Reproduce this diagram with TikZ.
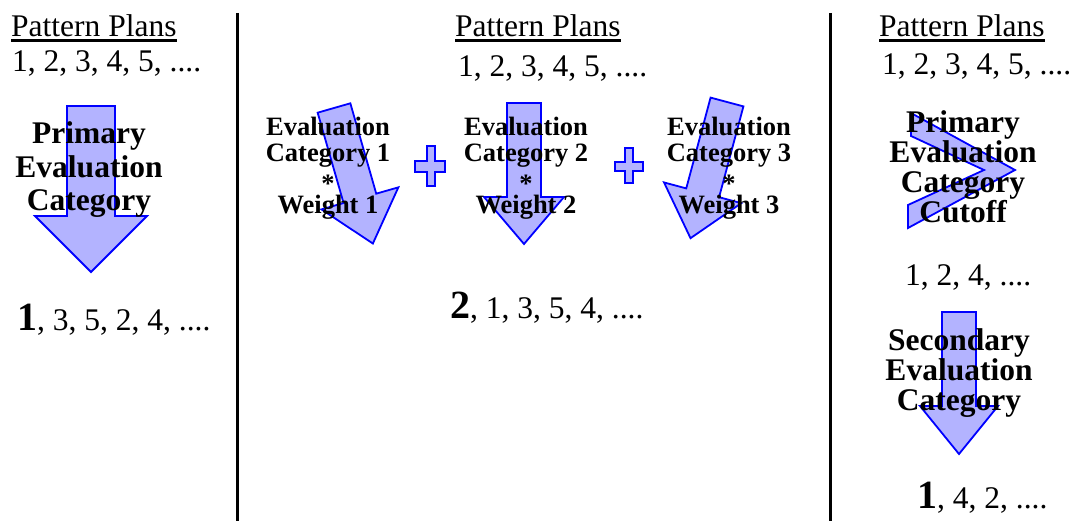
\documentclass[tikz,border=0pt]{standalone}
\usepackage{fontspec}
\setmainfont{Liberation Serif}
\definecolor{arrfill}{HTML}{B3B3FF}
\definecolor{arrline}{HTML}{0000FF}
\newcommand{\bignum}[1]{{\fontsize{40}{40}\selectfont\bfseries #1}}
\newcommand{\lowstar}{\raisebox{-5pt}[0pt][0pt]{*}}
\begin{document}
\begin{tikzpicture}[x=1pt,y=-1pt,
  txt/.style={inner sep=0pt, font=\fontsize{31.5}{33}\selectfont},
  bigbold/.style={inner sep=0pt, align=center, font=\fontsize{31.5}{33.5}\selectfont\bfseries},
  midbold/.style={inner sep=0pt, align=center, font=\fontsize{31.5}{30}\selectfont\bfseries},
  smallbold/.style={inner sep=0pt, align=center, font=\fontsize{26.5}{26}\selectfont\bfseries},
  uline/.style={line width=2.2pt},
  divider/.style={line width=3pt},
  arrshape/.style={fill=arrfill, draw=arrline, line width=1.8pt, line join=miter},
  plusshape/.style={fill=arrfill, draw=arrline, line width=2.6pt, line join=miter}]
\useasboundingbox (0,0) rectangle (1073,521);

% dividers
\coordinate (d1t) at (237,13); \coordinate (d1b) at (237,521);
\coordinate (d2t) at (830,13); \coordinate (d2b) at (830,521);
\draw[divider] (d1t) -- (d1b);
\draw[divider] (d2t) -- (d2b);

% arrows
\begin{scope}[shift={(91,106)}]
  \draw[arrshape] (-24,0) -- (24,0) -- (24,110) -- (56,110) -- (0,166) -- (-56,110) -- (-24,110) -- cycle;
\end{scope}
\begin{scope}[shift={(334,108)}, rotate=16]
  \draw[arrshape] (-17,0) -- (17,0) -- (17,94) -- (40,94) -- (0,141) -- (-40,94) -- (-17,94) -- cycle;
\end{scope}
\begin{scope}[shift={(524,103)}]
  \draw[arrshape] (-17,0) -- (17,0) -- (17,94) -- (40,94) -- (0,141) -- (-40,94) -- (-17,94) -- cycle;
\end{scope}
\begin{scope}[shift={(727,102)}, rotate=-15]
  \draw[arrshape] (-17,0) -- (17,0) -- (17,94) -- (40,94) -- (0,141) -- (-40,94) -- (-17,94) -- cycle;
\end{scope}
\begin{scope}[shift={(959,312)}]
  \draw[arrshape] (-17,0) -- (17,0) -- (17,94) -- (39,94) -- (0,142) -- (-39,94) -- (-17,94) -- cycle;
\end{scope}
% chevron
\draw[arrshape] (911,113) -- (1015,170) -- (908,228) -- (908,205) -- (984,170) -- (911,136) -- cycle;

% plus signs
\draw[plusshape] (427,146) -- (435,146) -- (435,161) -- (445,161) -- (445,172) -- (435,172) -- (435,186) -- (427,186) -- (427,172) -- (415,172) -- (415,161) -- (427,161) -- cycle;
\draw[plusshape] (625,148) -- (633,148) -- (633,162) -- (643,162) -- (643,171) -- (633,171) -- (633,183) -- (625,183) -- (625,171) -- (615,171) -- (615,162) -- (625,162) -- cycle;

% left column
\node[txt, anchor=base west] (pp1) at (11,37) {Pattern Plans};
\draw[uline] ([yshift=-3.5pt]pp1.base west) -- ([yshift=-3.5pt]pp1.base east);
\node[txt, anchor=base west] (in1) at (12,72) {1, 2, 3, 4, 5, ....};
\node[bigbold, anchor=base] (prim) at (89,211) {Primary\\Evaluation\\Category};
\node[txt, anchor=base west] (out1) at (17,330) {\bignum{1}, 3, 5, 2, 4, ....};

% middle column
\node[txt, anchor=base west] (pp2) at (455,37) {Pattern Plans};
\draw[uline] ([yshift=-3.5pt]pp2.base west) -- ([yshift=-3.5pt]pp2.base east);
\node[txt, anchor=base west] (in2) at (458,77) {1, 2, 3, 4, 5, ....};
\node[smallbold, anchor=base] (ev1) at (328,214) {Evaluation\\Category 1\\\lowstar\\Weight 1};
\node[smallbold, anchor=base] (ev2) at (526,214) {Evaluation\\Category 2\\\lowstar\\Weight 2};
\node[smallbold, anchor=base] (ev3) at (729,214) {Evaluation\\Category 3\\\lowstar\\Weight 3};
\node[txt, anchor=base west] (out2) at (450,318) {\bignum{2}, 1, 3, 5, 4, ....};

% right column
\node[txt, anchor=base west] (pp3) at (879,37) {Pattern Plans};
\draw[uline] ([yshift=-3.5pt]pp3.base west) -- ([yshift=-3.5pt]pp3.base east);
\node[txt, anchor=base west] (in3) at (882,75) {1, 2, 3, 4, 5, ....};
\node[midbold, anchor=base] (cut) at (963,223) {Primary\\Evaluation\\Category\\Cutoff};
\node[txt, anchor=base west] (mid3) at (905,285) {1, 2, 4, ....};
\node[midbold, anchor=base] (sec) at (959,410) {Secondary\\Evaluation\\Category};
\node[txt, anchor=base west] (out3) at (917,508) {\bignum{1}, 4, 2, ....};
\end{tikzpicture}
\end{document}
